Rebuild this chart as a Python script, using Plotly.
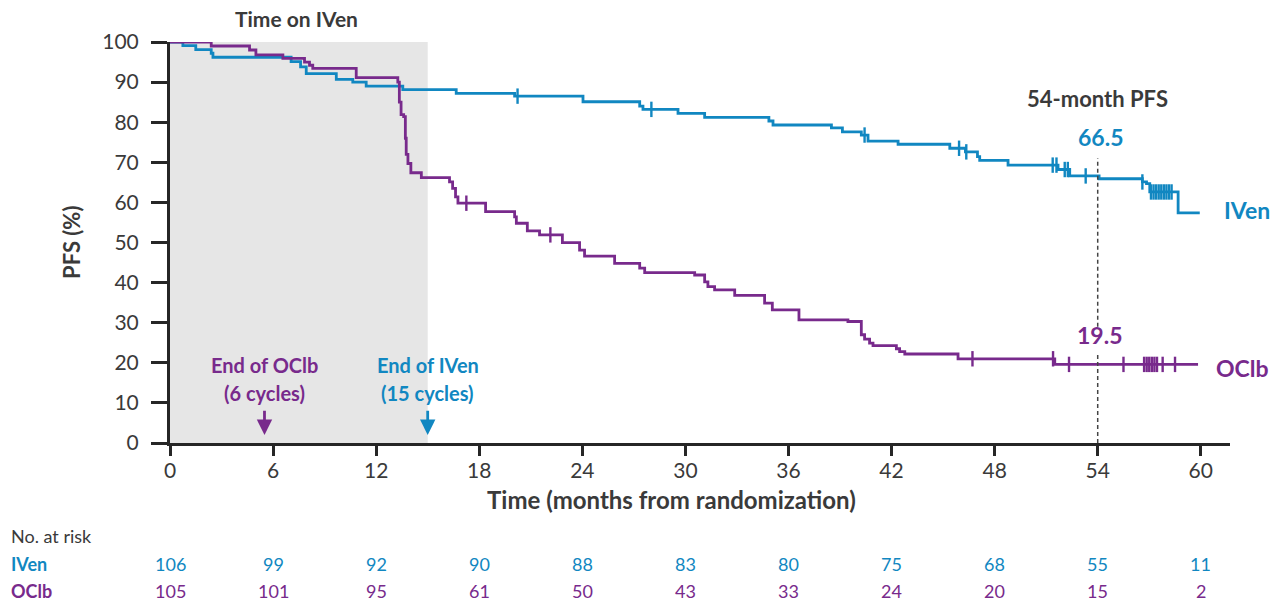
import numpy as np
import plotly.graph_objects as go

# ---------------- data ----------------
iven_t = [0, 0.75, 1.5, 2.4, 2.5, 7.05, 7.6, 7.93, 9.68, 10.64, 11.42, 13.55, 16.66, 20.06,
          24.04, 27.34, 27.53, 29.57, 31.12, 34.86, 35.1, 38.5, 39.14, 40.24, 40.63, 42.38,
          45.39, 46.3, 47.0, 47.13, 48.78, 51.69, 52.37, 54.08, 56.6, 56.84, 57.03, 58.68]
iven_s = [100, 99.1, 98.1, 97.2, 96.2, 95.1, 93.8, 92.1, 90.7, 90.0, 89.0, 88.1, 87.2, 86.5,
          85.1, 84.0, 83.2, 82.2, 81.2, 80.3, 79.3, 78.6, 77.6, 76.8, 75.3, 74.5,
          73.5, 72.6, 71.4, 70.5, 69.3, 68.2, 66.6, 65.9, 65.1, 64.7, 62.6, 57.4]
iven_end = 59.94
iven_cens = [20.23, 28.02, 40.43, 45.93, 46.35, 51.38, 51.6, 52.08, 52.26, 53.3, 56.6,
             57.1, 57.25, 57.4, 57.55, 57.7, 57.85, 58.0, 58.15, 58.3]

oclb_t = [0, 2.4, 4.63, 5.0, 6.57, 7.83, 8.12, 8.31, 10.84, 13.26, 13.35, 13.45, 13.6, 13.7,
          13.75, 13.85, 14.02, 14.63, 16.27, 16.45, 16.62, 16.76, 18.37, 20.06, 20.16, 20.8,
          21.51, 22.84, 23.84, 24.13, 25.88, 27.34, 27.63, 30.54, 31.12, 31.31, 31.7, 32.87,
          34.61, 35.06, 36.61, 39.46, 40.24, 40.43, 40.72, 40.92, 42.28, 42.47, 42.77, 45.87,
          51.5]
oclb_s = [100, 99.0, 98.0, 96.8, 95.9, 95.0, 94.2, 93.4, 91.1, 90.0, 85.0, 81.9, 81.4, 76.0,
          72.0, 69.7, 67.4, 66.2, 65.1, 63.5, 61.4, 59.8, 57.7, 56.4, 54.8, 52.9,
          51.9, 49.95, 48.1, 46.6, 44.8, 43.6, 42.5, 41.9, 40.2, 39.0, 38.2, 36.8,
          34.9, 33.2, 30.7, 30.3, 27.0, 25.9, 24.9, 24.3, 23.5, 22.8, 22.2, 21.0,
          19.6]
oclb_end = 59.84
oclb_cens = [17.25, 22.14, 46.71, 51.4, 52.33, 55.5, 56.7, 56.85, 57.0, 57.15, 57.3, 57.45,
             57.78, 58.5]

risk_times = [0, 6, 12, 18, 24, 30, 36, 42, 48, 54, 60]
risk_iven = [106, 99, 92, 90, 88, 83, 80, 75, 68, 55, 11]
risk_oclb = [105, 101, 95, 61, 50, 43, 33, 24, 20, 15, 2]

landmark = 54
landmark_iven = "66.5"
landmark_oclb = "19.5"
iven_duration = 15
oclb_duration = 5.5

XMAX = 61.7
BLUE = "#1187c1"
PURPLE = "#782a8c"
TXT = "#3a3a3a"
AX = "#262626"
FONT = "Lato"


def step_val(times, surv, t):
    i = np.searchsorted(np.array(times), t, side="right") - 1
    return surv[i]


fig = go.Figure()

# shaded time on IVen
fig.add_shape(type="rect", x0=0, x1=iven_duration, y0=0, y1=100,
              fillcolor="#e6e6e6", line_width=0, layer="below")

for t, s, end, cens, col in [(iven_t, iven_s, iven_end, iven_cens, BLUE),
                             (oclb_t, oclb_s, oclb_end, oclb_cens, PURPLE)]:
    fig.add_trace(go.Scatter(x=list(t) + [end], y=list(s) + [s[-1]], mode="lines",
                             line=dict(color=col, width=2.8, shape="hv"),
                             hoverinfo="skip", showlegend=False))
    fig.add_trace(go.Scatter(x=cens, y=[step_val(t, s, c) for c in cens], mode="markers",
                             marker=dict(symbol="line-ns", size=11,
                                         line=dict(color=col, width=2.4)),
                             hoverinfo="skip", showlegend=False))

# landmark dashed line (interrupted by the 19.5 label)
for y0, y1 in [(0, 22.0), (29.0, 71.0)]:
    fig.add_shape(type="line", x0=landmark, x1=landmark, y0=y0, y1=y1,
                  line=dict(color="#444444", width=1.5, dash="4px,3px"))

ann = []


def A(text, x, y, size, color, bold=True, **kw):
    """x in months, y in % ; placed in paper coords so they may sit outside the axes."""
    t = f"<b>{text}</b>" if bold else text
    d = dict(text=t, x=x / XMAX, y=y / 100, xref="paper", yref="paper", showarrow=False,
             xanchor="center", yanchor="middle",
             font=dict(family=FONT, size=size, color=color))
    d.update(kw)
    ann.append(d)


A("Time on IVen", 7.37, 105.9, 21, TXT)
A("54-month PFS", landmark, 86.0, 22, TXT)
A(landmark_iven, landmark + 0.15, 76.3, 23, BLUE)
A(landmark_oclb, landmark + 0.1, 27.0, 23, PURPLE)
A("IVen", 62.7, 58.1, 23, BLUE)
A("OClb", 62.4, 18.7, 23, PURPLE)
A("End of OClb", oclb_duration, 19.5, 20, PURPLE)
A("(6 cycles)", oclb_duration, 12.5, 20, PURPLE)
A("End of IVen", iven_duration, 19.5, 20, BLUE)
A("(15 cycles)", iven_duration, 12.5, 20, BLUE)
A("PFS (%)", -5.7, 49.9, 22, TXT, textangle=-90)
A("Time (months from randomization)", 29.2, -14.1, 24, TXT)
A("No. at risk", -9.35, -23.3, 18, TXT, bold=False, xanchor="left")
A("IVen", -9.35, -30.2, 18, BLUE, xanchor="left")
A("OClb", -9.35, -36.9, 18, PURPLE, xanchor="left")
for rt, a, b in zip(risk_times, risk_iven, risk_oclb):
    A(str(a), rt, -30.2, 18, BLUE, bold=False)
    A(str(b), rt, -36.9, 18, PURPLE, bold=False)

# arrows
for xa, col in [(oclb_duration, PURPLE), (iven_duration, BLUE)]:
    ann.append(dict(x=xa, y=2.0, ax=xa, ay=8.4, xref="x", yref="y", axref="x", ayref="y",
                    text="", showarrow=True, arrowhead=2, arrowsize=1.1,
                    arrowwidth=2.8, arrowcolor=col))

fig.update_layout(
    width=1274, height=602,
    margin=dict(l=170, r=44, t=42, b=159),
    paper_bgcolor="white", plot_bgcolor="white",
    showlegend=False,
    annotations=ann,
    font=dict(family=FONT, color=TXT),
    xaxis=dict(range=[0, XMAX], tickvals=risk_times, ticks="outside", ticklen=10,
               tickwidth=3, tickcolor=AX, showline=True, linecolor=AX, linewidth=3,
               showgrid=False, zeroline=False, tickfont=dict(size=21, color=TXT),
               ticklabelstandoff=-3, fixedrange=True),
    yaxis=dict(range=[0, 100], tickvals=list(range(0, 101, 10)), ticks="outside",
               ticklen=16, tickwidth=3, tickcolor=AX, showline=True, linecolor=AX,
               linewidth=3, showgrid=False, zeroline=False,
               tickfont=dict(size=21, color=TXT), ticklabelstandoff=8, fixedrange=True),
)

fig.write_html("out.html")
